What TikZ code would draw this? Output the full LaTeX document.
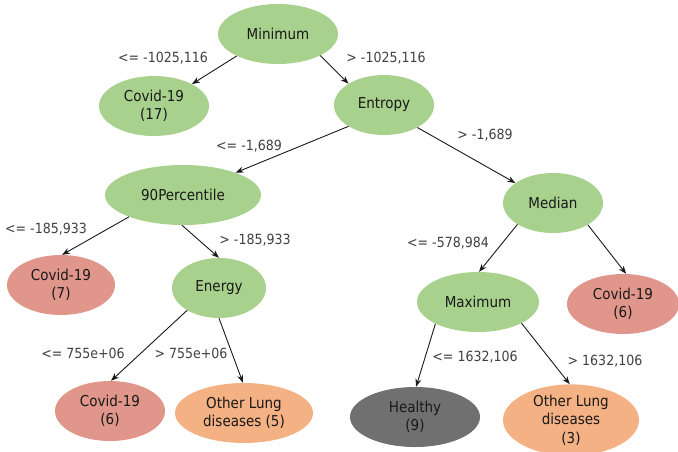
\documentclass[tikz,border=0pt]{standalone}
\usepackage{fontspec}
\setmainfont{DejaVu Sans Condensed}
\usetikzlibrary{shapes.geometric,arrows.meta}
\definecolor{ngreen}{HTML}{A9D18E}
\definecolor{nred}{HTML}{E0968A}
\definecolor{norange}{HTML}{F4B183}
\definecolor{ngray}{HTML}{707070}
\definecolor{lblgray}{HTML}{404040}
\tikzset{
  tnode/.style={ellipse, draw=none, inner sep=0pt, minimum height=60pt, align=center,
    font=\fontsize{15}{18.5}\selectfont, text=black!90},
  gnode/.style={tnode, fill=ngreen},
  rnode/.style={tnode, fill=nred},
  onode/.style={tnode, fill=norange},
  hnode/.style={tnode, fill=ngray},
  lbl/.style={font=\fontsize{14}{16}\selectfont, text=lblgray, inner sep=0pt},
  edge/.style={draw=black!90, line width=0.9pt, -{Stealth[length=8pt,width=6pt]}}
}
\begin{document}
\begin{tikzpicture}[x=1pt,y=-1pt]
\useasboundingbox (0,0) rectangle (678,451);
% nodes
\node[gnode, minimum width=120pt] (min) at (278,34) {Minimum};
\node[gnode, minimum width=110pt] (c17) at (154,106) {Covid-19\\(17)};
\node[gnode, minimum width=100pt] (ent) at (384,105) {Entropy};
\node[gnode, minimum width=156pt] (p90) at (183,195) {90Percentile};
\node[rnode, minimum width=108pt] (c7) at (61,285) {Covid-19\\(7)};
\node[gnode, minimum width=94pt] (eng) at (219,288) {Energy};
\node[rnode, minimum width=110pt] (c6l) at (110,411) {Covid-19\\(6)};
\node[onode, minimum width=138pt] (o5) at (244,413) {Other Lung\\diseases (5)};
\node[gnode, minimum width=100pt] (med) at (553,203) {Median};
\node[gnode, minimum width=122pt] (max) at (478,302) {Maximum};
\node[rnode, minimum width=112pt] (c6r) at (623,304) {Covid-19\\(6)};
\node[hnode, minimum width=130pt] (hea) at (415,417) {Healthy\\(9)};
\node[onode, minimum width=136pt] (o3) at (571,420) {Other Lung\\diseases\\(3)};
% edges
\draw[edge] (min.-152) -- (c17.30);
\draw[edge] (min.-27) -- (ent.149);
\draw[edge] (ent.-149) -- (p90.23);
\draw[edge] (ent.-34) -- (med.152);
\draw[edge] (p90.-158) -- (c7.88);
\draw[edge] (p90.-92) -- (eng.90);
\draw[edge] (eng.-145) -- (c6l.88);
\draw[edge] (eng.-90) -- (o5.92);
\draw[edge] (med.-149) -- (max.88);
\draw[edge] (med.-32) -- (c6r.84);
\draw[edge] (max.-153) -- (hea.88);
\draw[edge] (max.-26) -- (o3.92);
% labels
\node[lbl] (l1) at (163,58) {<= -1025,116};
\node[lbl] (l2) at (386,58) {> -1025,116};
\node[lbl] (l3) at (249,146) {<= -1,689};
\node[lbl] (l4) at (485,135) {> -1,689};
\node[lbl] (l5) at (46,229) {<= -185,933};
\node[lbl] (l6) at (255,240) {> -185,933};
\node[lbl] (l7) at (448,243) {<= -578,984};
\node[lbl] (l8) at (83,353) {<= 755e+06};
\node[lbl] (l9) at (191,353) {> 755e+06};
\node[lbl] (l10) at (475,357) {<= 1632,106};
\node[lbl] (l11) at (605,361) {> 1632,106};
\end{tikzpicture}
\end{document}
